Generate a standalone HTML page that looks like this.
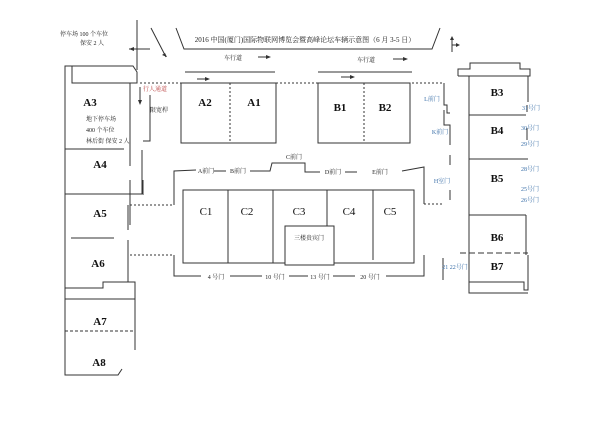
<!DOCTYPE html>
<html><head><meta charset="utf-8"><style>
html,body{margin:0;padding:0;background:#fff;}
svg{display:block;}
text{font-family:"Liberation Serif","Noto Serif CJK SC",serif;}
</style></head><body>
<svg width="600" height="424" viewBox="0 0 600 424" xmlns="http://www.w3.org/2000/svg">
<g stroke="#333" stroke-width="1" fill="none">
<!-- top entry lines -->
<line x1="137" y1="20" x2="137" y2="70"/>
<line x1="151" y1="28" x2="166" y2="57"/>
<line x1="129" y1="49" x2="150" y2="49"/>
<!-- title bracket -->
<polyline points="176,28 184,49 432,49 440,28"/>
<!-- car roads -->
<line x1="185" y1="72" x2="275" y2="72"/>
<line x1="318" y1="72" x2="412" y2="72"/>
<line x1="140" y1="83" x2="443" y2="83" stroke-dasharray="2,2"/>
<!-- A3 block -->
<polyline points="65,370 65,66 133,66 137,72 137,83 72,83 72,66"/>
<line x1="130" y1="83" x2="130" y2="166"/>
<line x1="65" y1="149" x2="124" y2="149"/>
<line x1="65" y1="194" x2="142" y2="194"/>
<line x1="142" y1="150" x2="142" y2="194"/>
<polyline points="150,95 150,141 143,141"/>
<line x1="130" y1="180" x2="130" y2="225"/>
<line x1="143" y1="180" x2="143" y2="195"/>
<line x1="128" y1="240" x2="128" y2="282"/>
<line x1="128" y1="205" x2="128" y2="230"/>
<line x1="71" y1="238" x2="114" y2="238"/>
<polyline points="65,288 103,288 103,282 135,282 135,350"/>
<line x1="65" y1="299" x2="135" y2="299"/>
<line x1="65" y1="288" x2="65" y2="299" stroke-dasharray="2,2"/>
<line x1="135" y1="288" x2="135" y2="299" stroke-dasharray="2,2"/>
<line x1="65" y1="331" x2="135" y2="331" stroke-dasharray="3,2"/>
<polyline points="65,330 65,375 118,375 122,369"/>
<line x1="130" y1="205" x2="174" y2="205" stroke-dasharray="2,2"/>
<line x1="130" y1="255" x2="174" y2="255" stroke-dasharray="2,2"/>
<!-- A2/A1 -->
<rect x="181" y="83" width="95" height="60"/>
<line x1="230" y1="83" x2="230" y2="143" stroke-dasharray="2,2"/>
<rect x="318" y="83" width="92" height="60"/>
<line x1="364" y1="83" x2="364" y2="143" stroke-dasharray="2,2"/>
<!-- C outline -->
<polyline points="174,205 174,171 196,170"/>
<line x1="214" y1="171" x2="226" y2="171"/>
<polyline points="250,171 270,171 272,163 305,163 305,172 320,172"/>
<line x1="345" y1="172" x2="357" y2="172"/>
<polyline points="402,171 424,167 424,204"/>
<line x1="424" y1="204" x2="444" y2="204" stroke-dasharray="2,2"/>
<polyline points="174,255 174,276 201,276"/>
<line x1="230" y1="276" x2="262" y2="276"/>
<line x1="289" y1="276" x2="308" y2="276"/>
<line x1="333" y1="276" x2="355" y2="276"/>
<polyline points="386,276 424,276 424,255"/>
<rect x="183" y="190" width="231" height="73"/>
<line x1="228" y1="190" x2="228" y2="263"/>
<line x1="273" y1="190" x2="273" y2="263"/>
<line x1="327" y1="190" x2="327" y2="226"/>
<line x1="373" y1="190" x2="373" y2="260"/>
<rect x="285" y="226" width="49" height="39" fill="#fff"/>
<!-- B column -->
<polyline points="458,76 458,69 470,69 470,63 520,63 520,69 530,69 530,76 458,76"/>
<line x1="469" y1="76" x2="469" y2="285"/>
<line x1="528" y1="76" x2="528" y2="102"/>
<line x1="469" y1="115" x2="526" y2="115"/>
<line x1="469" y1="159" x2="528" y2="159"/>
<line x1="469" y1="215" x2="526" y2="215"/>
<line x1="460" y1="253" x2="528" y2="253" stroke-dasharray="6,3"/>
<line x1="526" y1="215" x2="526" y2="255"/>
<line x1="528" y1="255" x2="528" y2="282"/>
<polyline points="469,282 524,282 524,290 528,290 528,282"/>
<polyline points="469,285 469,293 528,293"/>
<polyline points="444,83 444,105 447,105 447,113 450,113"/>
<polyline points="444,110 444,125 450,125 450,145"/>
<line x1="450" y1="155" x2="450" y2="165"/>
<line x1="450" y1="190" x2="450" y2="200"/>
<polyline points="424,167 424,204"/>
<line x1="443" y1="258" x2="443" y2="280"/>
<line x1="527" y1="128" x2="527" y2="140"/>
<line x1="527" y1="105" x2="527" y2="112"/>
<!-- arrows -->
<line x1="258" y1="57" x2="268" y2="57"/>
<line x1="197" y1="79" x2="207" y2="79"/>
<line x1="393" y1="59" x2="405" y2="59"/>
<line x1="341" y1="77" x2="352" y2="77"/>
<line x1="452" y1="38" x2="452" y2="52"/>
<line x1="452" y1="45" x2="458" y2="45"/>
<line x1="140" y1="87" x2="140" y2="102"/>
</g>
<g fill="#333">
<polygon points="129,49 134,47 134,51"/>
<polygon points="167,57 162,55 165,53"/>
<polygon points="271,57 266,55 266,59"/>
<polygon points="210,79 205,77 205,81"/>
<polygon points="408,59 403,57 403,61"/>
<polygon points="355,77 350,75 350,79"/>
<polygon points="452,36 450,40 454,40"/>
<polygon points="460,45 456,43 456,47"/>
<polygon points="140,105 138,100 142,100"/>
</g>
<g font-size="6" fill="#222">
<text x="305" y="42" text-anchor="middle" font-size="7">2016 中国(厦门)国际物联网博览会暨高峰论坛车辆示意图（6 月 3-5 日）</text>
<text x="84" y="36" text-anchor="middle">停车场 100 个车位</text>
<text x="92" y="45" text-anchor="middle">保安 2 人</text>
<text x="233" y="60" text-anchor="middle">车行道</text>
<text x="366" y="62" text-anchor="middle">车行道</text>
<text x="155" y="91" text-anchor="middle" fill="#b44">行人通道</text>
<text x="159" y="112" text-anchor="middle">限宽桿</text>
<text x="86" y="121">地下停车场</text>
<text x="86" y="132">400 个车位</text>
<text x="86" y="143">林后街 保安 2 人</text>
<text x="309" y="240" text-anchor="middle">三楼贵宾门</text>
<text x="216" y="279" text-anchor="middle">4 号门</text>
<text x="275" y="279" text-anchor="middle">10 号门</text>
<text x="320" y="279" text-anchor="middle">13 号门</text>
<text x="370" y="279" text-anchor="middle">20 号门</text>
<text x="206" y="173" text-anchor="middle">A前门</text>
<text x="238" y="173" text-anchor="middle">B前门</text>
<text x="294" y="159" text-anchor="middle">C前门</text>
<text x="333" y="174" text-anchor="middle">D前门</text>
<text x="380" y="174" text-anchor="middle">E前门</text>
<g fill="#3a6fa8">
<text x="432" y="101" text-anchor="middle">L前门</text>
<text x="440" y="134" text-anchor="middle">K前门</text>
<text x="442" y="183" text-anchor="middle">H室门</text>
<text x="455" y="269" text-anchor="middle">21 22号门</text>
<text x="522" y="110">31号门</text>
<text x="521" y="130">30号门</text>
<text x="521" y="146">29号门</text>
<text x="521" y="171">28号门</text>
<text x="521" y="191">25号门</text>
<text x="521" y="202">26号门</text>
</g>
</g>
<g font-size="11" font-weight="bold" fill="#111" text-anchor="middle">
<text x="90" y="106">A3</text>
<text x="100" y="168">A4</text>
<text x="100" y="217">A5</text>
<text x="98" y="267">A6</text>
<text x="100" y="325">A7</text>
<text x="99" y="366">A8</text>
<text x="205" y="106">A2</text>
<text x="254" y="106">A1</text>
<text x="340" y="111">B1</text>
<text x="385" y="111">B2</text>
<text x="497" y="96">B3</text>
<text x="497" y="134">B4</text>
<text x="497" y="182">B5</text>
<text x="497" y="241">B6</text>
<text x="497" y="270">B7</text>
<text x="206" y="215" font-weight="normal">C1</text>
<text x="247" y="215" font-weight="normal">C2</text>
<text x="299" y="215" font-weight="normal">C3</text>
<text x="349" y="215" font-weight="normal">C4</text>
<text x="390" y="215" font-weight="normal">C5</text>
</g>
</svg>
</body></html>
